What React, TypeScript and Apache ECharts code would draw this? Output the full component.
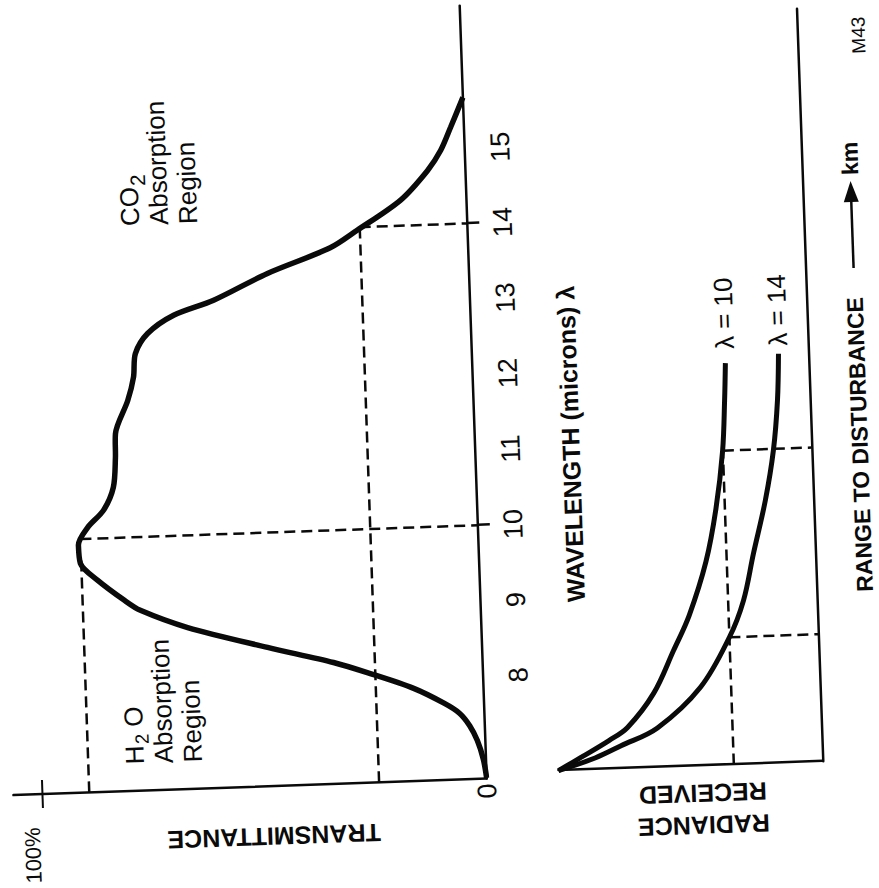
import React, { useEffect, useRef } from 'react';
import * as echarts from 'echarts';

// ---------- data ----------
const WAVELENGTH_TICKS = [8, 9, 10, 11, 12, 13, 14, 15];
const WL_MIN = 6.644;
const WL_MAX = 16.886;
const T_MAX = 106.45;

// transmittance curve (wavelength in microns, transmittance in %)
const WAVELENGTH = [6.65, 6.9, 7.15, 7.35, 7.52, 7.66, 7.87, 8.10, 8.25, 8.48, 8.78, 9.03, 9.17, 9.45, 9.68, 9.92, 10.15, 10.37, 10.67, 11.06, 11.38, 11.81, 12.12, 12.43, 12.69, 12.92, 13.10, 13.43, 13.74, 13.96, 14.34, 14.72, 14.98, 15.28, 15.67];
const TRANSMITTANCE = [0, 0.6, 1.8, 3.4, 5.6, 9.0, 15.7, 26.0, 33.5, 48.2, 66.0, 76.5, 80.0, 85.9, 89.6, 89.9, 87.7, 84.0, 81.6, 80.9, 80.7, 77.7, 76.2, 75.6, 72.7, 66.7, 57.6, 45.3, 31.0, 24.8, 14.8, 8.5, 5.4, 3.0, 0];

// guide lines in the transmittance chart
const GUIDE_WAVELENGTHS = [10, 14];
const GUIDE_LEVELS = [89.4, 24.2];
const PEAK_MEET = 9.75;

// radiance vs range curves (arbitrary units)
const RANGE_L10 = [0, 1.7, 3.75, 5.4, 9.8, 15.4, 20, 27, 34, 41.7, 48.3, 53.3];
const RAD_L10 = [100, 91, 80.5, 73.3, 63, 54.9, 48.5, 41.5, 37, 33.7, 32.3, 31.5];
const RANGE_L14 = [0, 1.5, 3.0, 5.2, 10.4, 16.9, 21.7, 27.9, 34.9, 41.5, 48.1, 54.3];
const RAD_L14 = [100, 86, 76, 62, 45.2, 33.6, 27.8, 23.4, 18.2, 14.5, 12.3, 11.3];
const CURVE_LABELS = ['λ = 10', 'λ = 14'];
const RADIANCE_LEVEL = 33.6;
const LEVEL_RANGES = [16.9, 41.7];

const FONT = "'Liberation Sans', Arial, Helvetica, sans-serif";
const INK = '#0a0a0a';
const O = 30; // padding of the drawing frame
const TITLE_Y = 859; // baseline row of the range title

const zip = (a: number[], b: number[]) => a.map((v, i) => [v, b[i]]);

const dash = (data: number[][], xi: number, yi: number) => ({
  type: 'line',
  xAxisIndex: xi,
  yAxisIndex: yi,
  data,
  symbol: 'none',
  silent: true,
  clip: false,
  lineStyle: { color: INK, width: 2.5, type: [11, 6] },
  z: 3,
});

export default function App() {
  const ref = useRef<HTMLDivElement>(null);

  useEffect(() => {
    const chart = echarts.init(ref.current!, null, { renderer: 'svg' });
    const option: any = {
      animation: false,
      backgroundColor: '#fff',
      grid: [
        { left: 108.6 + O, right: 6.1 + O, top: 1 + O, bottom: 404.5 + O },
        { left: 114 + O, right: 21 + O, top: 546.5 + O, bottom: 68.2 + O },
      ],
      xAxis: [
        {
          type: 'value', gridIndex: 0, min: WL_MIN, max: WL_MAX,
          splitLine: { show: false },
          axisLine: { show: true, onZero: false, lineStyle: { color: INK, width: 2.5 } },
          axisTick: { show: true, customValues: GUIDE_WAVELENGTHS, length: 12, lineStyle: { color: INK, width: 2.5 } },
          axisLabel: { show: true, customValues: WAVELENGTH_TICKS, margin: 22, fontSize: 27, fontFamily: FONT, color: INK },
        },
        {
          type: 'value', gridIndex: 1, min: 0, max: 100,
          splitLine: { show: false },
          axisLine: { show: true, onZero: false, lineStyle: { color: INK, width: 2.5 } },
          axisTick: { show: false },
          axisLabel: { show: false },
        },
      ],
      yAxis: [
        {
          type: 'value', gridIndex: 0, min: 0, max: T_MAX, position: 'left',
          splitLine: { show: false },
          axisLine: { show: true, onZero: false, lineStyle: { color: INK, width: 2.5 } },
          axisTick: { show: true, customValues: [100], length: 14, lineStyle: { color: INK, width: 2 } },
          axisLabel: { show: true, customValues: [0], margin: 5, fontSize: 27, fontFamily: FONT, color: INK },
        },
        {
          type: 'value', gridIndex: 0, min: 0, max: T_MAX, position: 'left',
          splitLine: { show: false },
          axisLine: { show: false },
          axisTick: { show: true, inside: true, customValues: [100], length: 14, lineStyle: { color: INK, width: 2 } },
          axisLabel: {
            show: true, customValues: [100], margin: 33, verticalAlign: 'bottom',
            formatter: (v: number) => v + '%', fontSize: 22, fontFamily: FONT, color: INK,
          },
        },
        {
          type: 'value', gridIndex: 1, min: 0, max: 100, position: 'left',
          splitLine: { show: false },
          axisLine: { show: true, onZero: false, lineStyle: { color: INK, width: 2.5 } },
          axisTick: { show: false },
          axisLabel: { show: false },
        },
      ],
      series: [
        {
          type: 'line', xAxisIndex: 0, yAxisIndex: 0,
          data: zip(WAVELENGTH, TRANSMITTANCE),
          smooth: 0.3, symbol: 'none', silent: true,
          lineStyle: { color: INK, width: 5.5 }, z: 4,
        },
        dash([[WL_MIN, GUIDE_LEVELS[0]], [PEAK_MEET, GUIDE_LEVELS[0]]], 0, 0),
        dash([[GUIDE_WAVELENGTHS[0], GUIDE_LEVELS[0]], [GUIDE_WAVELENGTHS[0], 0]], 0, 0),
        dash([[WL_MIN, GUIDE_LEVELS[1]], [GUIDE_WAVELENGTHS[1], GUIDE_LEVELS[1]]], 0, 0),
        dash([[GUIDE_WAVELENGTHS[1], GUIDE_LEVELS[1]], [GUIDE_WAVELENGTHS[1], 0]], 0, 0),
        {
          type: 'line', xAxisIndex: 1, yAxisIndex: 2,
          data: zip(RANGE_L10, RAD_L10),
          smooth: 0.35, symbol: 'none', silent: true,
          lineStyle: { color: INK, width: 5 }, z: 4,
          endLabel: { show: true, formatter: CURVE_LABELS[0], distance: 14, fontSize: 26, fontFamily: FONT, color: INK },
        },
        {
          type: 'line', xAxisIndex: 1, yAxisIndex: 2,
          data: zip(RANGE_L14, RAD_L14),
          smooth: 0.35, symbol: 'none', silent: true,
          lineStyle: { color: INK, width: 5 }, z: 4,
          endLabel: { show: true, formatter: CURVE_LABELS[1], distance: 8, fontSize: 26, fontFamily: FONT, color: INK },
        },
        dash([[0, RADIANCE_LEVEL], [LEVEL_RANGES[1], RADIANCE_LEVEL]], 1, 2),
        dash([[LEVEL_RANGES[0], RADIANCE_LEVEL], [LEVEL_RANGES[0], 0]], 1, 2),
        dash([[LEVEL_RANGES[1], RADIANCE_LEVEL], [LEVEL_RANGES[1], 0]], 1, 2),
      ],
      graphic: [
        {
          type: 'text', x: 58 + O, y: 260 + O, rotation: Math.PI / 2,
          style: { text: 'TRANSMITTANCE', fontSize: 25, fontWeight: 'bold', fontFamily: FONT, fill: INK, align: 'center', verticalAlign: 'middle' },
        },
        {
          type: 'text', x: 70 + O, y: 690 + O, rotation: Math.PI / 2,
          style: { text: 'RADIANCE\nRECEIVED', fontSize: 25, lineHeight: 32, fontWeight: 'bold', fontFamily: FONT, fill: INK, align: 'center', verticalAlign: 'middle' },
        },
        {
          type: 'text', x: 440 + O, y: 570 + O,
          style: { text: 'WAVELENGTH (microns) λ', fontSize: 25, fontWeight: 'bold', fontFamily: FONT, fill: INK, align: 'center', verticalAlign: 'middle' },
        },
        {
          type: 'text', x: 135 + O, y: 109 + O,
          style: {
            text: 'H{s|2} O\nAbsorption\nRegion', fontSize: 26, lineHeight: 29, fontFamily: FONT, fill: INK, align: 'left', verticalAlign: 'top',
            rich: { s: { fontSize: 19, lineHeight: 19, padding: [13, 0, 0, 1], verticalAlign: 'top', fontFamily: FONT, fill: INK } },
          },
        },
        {
          type: 'text', x: 673 + O, y: 123 + O,
          style: {
            text: 'CO{s|2}\nAbsorption\nRegion', fontSize: 26, lineHeight: 29, fontFamily: FONT, fill: INK, align: 'left', verticalAlign: 'top',
            rich: { s: { fontSize: 21, lineHeight: 21, padding: [13, 0, 0, 1], verticalAlign: 'top', fontFamily: FONT, fill: INK } },
          },
        },
        {
          type: 'text', x: 282 + O, y: TITLE_Y + O,
          style: { text: 'RANGE TO DISTURBANCE', fontSize: 23, fontWeight: 'bold', fontFamily: FONT, fill: INK, align: 'left', verticalAlign: 'middle' },
        },
        {
          type: 'line', shape: { x1: 606 + O, y1: TITLE_Y + O, x2: 676 + O, y2: TITLE_Y + O },
          style: { stroke: INK, lineWidth: 2.5 },
        },
        {
          type: 'polygon', shape: { points: [[693 + O, TITLE_Y + O], [672 + O, TITLE_Y - 7.5 + O], [672 + O, TITLE_Y + 7.5 + O]] },
          style: { fill: INK },
        },
        {
          type: 'text', x: 699 + O, y: TITLE_Y + O,
          style: { text: 'km', fontSize: 23, fontWeight: 'bold', fontFamily: FONT, fill: INK, align: 'left', verticalAlign: 'middle' },
        },
        {
          type: 'text', x: 820 + O, y: 872 + O,
          style: { text: 'M43', fontSize: 19, fontFamily: FONT, fill: INK, align: 'left', verticalAlign: 'middle' },
        },
      ],
    };
    chart.setOption(option);
    return () => chart.dispose();
  }, []);

  return (
    <div style={{ position: 'fixed', left: 0, top: 0, width: 879, height: 888, overflow: 'hidden', background: '#fff' }}>
      <div
        ref={ref}
        style={{
          position: 'absolute',
          left: -4.5 - O,
          top: 4.5 - O,
          width: 888 + 2 * O,
          height: 879 + 2 * O,
          transform: 'rotate(-92deg)',
          transformOrigin: '50% 50%',
        }}
      />
    </div>
  );
}
